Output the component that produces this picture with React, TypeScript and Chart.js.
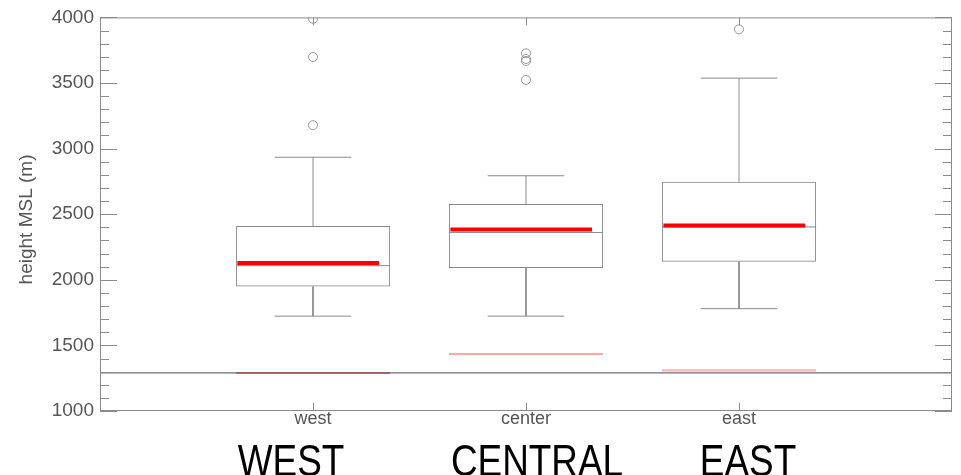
import { useEffect, useRef } from 'react';
import { Chart, registerables } from 'chart.js';

Chart.register(...registerables);

// ---- data ----
const CATEGORIES = ['west', 'center', 'east'];
const BIG_LABELS = ['WEST', 'CENTRAL', 'EAST'];
const WHISKER_LOW = [1723, 1723, 1780];
const Q1 = [1949, 2090, 2138];
const MEDIAN = [2108, 2360, 2403];
const Q3 = [2410, 2577, 2748];
const WHISKER_HIGH = [2934, 2793, 3537];
const MEAN = [2128, 2383, 2413];
const OUTLIERS = [
  [3178, 3698, 3990],
  [3524, 3668, 3683, 3726],
  [3909],
];
const BASE_LEVEL = [1290, 1435, 1309];
const REFERENCE_LEVEL = 1290;
const Y_MIN = 1000;
const Y_MAX = 4000;
const MAJOR_STEP = 500;
const MINOR_STEP = 100;

// ---- geometry / style constants (not data) ----
const X_POS = CATEGORIES.map((_, i) => i + 1);
const BOX_HALF = 0.362;
const CAP_HALF = 0.18;
const MEAN_LEFT = 0.355;
const MEAN_RIGHT = 0.31;
const BIG_LABEL_SHIFT = [-22, 11, 9];
const TITLE_CENTER_VALUE = 2460;
const BASE_COLORS = ['#a05454', '#ff8a8a', '#ffb6b6'];
const GRAY = '#8a8a8a';
const TEXT = '#555555';
const FONT = '"Liberation Sans", Arial, sans-serif';

type Pt = { x: number; y: number | null };
const brk = (x: number): Pt => ({ x, y: null });

function whiskerPoints(): Pt[] {
  const pts: Pt[] = [];
  X_POS.forEach((x, i) => {
    pts.push({ x, y: Q3[i] }, { x, y: WHISKER_HIGH[i] }, brk(x));
    pts.push({ x: x - CAP_HALF, y: WHISKER_HIGH[i] }, { x: x + CAP_HALF, y: WHISKER_HIGH[i] }, brk(x));
    pts.push({ x, y: Q1[i] }, { x, y: WHISKER_LOW[i] }, brk(x));
    pts.push({ x: x - CAP_HALF, y: WHISKER_LOW[i] }, { x: x + CAP_HALF, y: WHISKER_LOW[i] }, brk(x));
  });
  return pts;
}

function segPoints(values: number[], left: number, right: number): Pt[] {
  const pts: Pt[] = [];
  X_POS.forEach((x, i) => {
    pts.push({ x: x - left, y: values[i] }, { x: x + right, y: values[i] }, brk(x));
  });
  return pts;
}

const framePlugin = {
  id: 'frameAndText',
  afterDatasetsDraw(chart: any) {
    const { ctx, chartArea: a, scales } = chart;
    const x = scales.x;
    const y = scales.y;
    ctx.save();
    ctx.strokeStyle = GRAY;
    ctx.lineWidth = 1;
    ctx.strokeRect(a.left + 0.5, a.top + 0.5, a.right - a.left - 1, a.bottom - a.top - 1);
    const seg = (x1: number, y1: number, x2: number, y2: number) => {
      ctx.beginPath();
      ctx.moveTo(x1, y1);
      ctx.lineTo(x2, y2);
      ctx.stroke();
    };
    for (let v = Y_MIN; v <= Y_MAX; v += MINOR_STEP) {
      const py = Math.round(y.getPixelForValue(v)) + 0.5;
      const len = v % MAJOR_STEP === 0 ? 17 : 9;
      seg(a.left, py, a.left + len, py);
      seg(a.right - len, py, a.right, py);
    }
    X_POS.forEach((v) => {
      const px = Math.round(x.getPixelForValue(v)) + 0.5;
      seg(px, a.bottom, px, a.bottom - 8);
      seg(px, a.top, px, a.top + 8);
    });
    ctx.restore();
  },
  afterDraw(chart: any) {
    const { ctx, scales } = chart;
    const x = scales.x;
    const y = scales.y;
    ctx.save();
    // y axis title
    ctx.fillStyle = TEXT;
    ctx.font = `19px ${FONT}`;
    ctx.textAlign = 'center';
    ctx.textBaseline = 'middle';
    ctx.translate(27, y.getPixelForValue(TITLE_CENTER_VALUE));
    ctx.rotate(-Math.PI / 2);
    ctx.fillText('height MSL (m)', 0, 0);
    ctx.restore();

    // big region labels
    ctx.save();
    ctx.fillStyle = '#000';
    ctx.font = `45px ${FONT}`;
    ctx.textAlign = 'center';
    ctx.textBaseline = 'alphabetic';
    BIG_LABELS.forEach((t, i) => {
      const cx = x.getPixelForValue(X_POS[i]) + BIG_LABEL_SHIFT[i];
      ctx.save();
      ctx.translate(cx, 476);
      ctx.scale(0.82, 1);
      ctx.fillText(t, 0, 0);
      ctx.restore();
    });
    ctx.restore();
  },
};

export default function App() {
  const ref = useRef<HTMLCanvasElement | null>(null);

  useEffect(() => {
    document.body.style.margin = '0';
    const canvas = ref.current;
    if (!canvas) return;

    const outlierPts: Pt[] = [];
    OUTLIERS.forEach((arr, i) => arr.forEach((v) => outlierPts.push({ x: X_POS[i], y: v })));

    const datasets: any[] = [
      {
        type: 'line',
        label: 'reference',
        data: [{ x: 0, y: REFERENCE_LEVEL }, { x: 4, y: REFERENCE_LEVEL }],
        borderColor: '#6e6e6e',
        borderWidth: 1.2,
        pointRadius: 0,
        order: 10,
      },
      ...BASE_LEVEL.map((v, i) => ({
        type: 'line',
        label: 'base ' + CATEGORIES[i],
        data: [{ x: X_POS[i] - BOX_HALF, y: v }, { x: X_POS[i] + BOX_HALF, y: v }],
        borderColor: BASE_COLORS[i],
        borderWidth: i === 2 ? 2.2 : 1.6,
        pointRadius: 0,
        order: 9,
      })),
      {
        type: 'bar',
        label: 'box',
        data: X_POS.map((x, i) => ({ x, y: [Q1[i], Q3[i]] })),
        backgroundColor: 'rgba(255,255,255,0)',
        borderColor: GRAY,
        borderWidth: 1,
        borderSkipped: false,
        categoryPercentage: 1,
        barPercentage: BOX_HALF * 2,
        order: 8,
      },
      {
        type: 'line',
        label: 'whiskers',
        data: whiskerPoints(),
        borderColor: GRAY,
        borderWidth: 1,
        pointRadius: 0,
        spanGaps: false,
        order: 7,
      },
      {
        type: 'line',
        label: 'median',
        data: segPoints(MEDIAN, BOX_HALF, BOX_HALF),
        borderColor: GRAY,
        borderWidth: 1,
        pointRadius: 0,
        spanGaps: false,
        order: 6,
      },
      {
        type: 'line',
        label: 'mean',
        data: segPoints(MEAN, MEAN_LEFT, MEAN_RIGHT),
        borderColor: '#ff0000',
        borderWidth: 4,
        borderCapStyle: 'butt',
        pointRadius: 0,
        spanGaps: false,
        order: 5,
      },
      {
        type: 'scatter',
        label: 'outliers',
        data: outlierPts,
        pointStyle: 'circle',
        pointRadius: 4.5,
        pointBorderColor: '#999999',
        pointBackgroundColor: 'rgba(255,255,255,0)',
        pointBorderWidth: 1,
        showLine: false,
        order: 4,
      },
    ];

    const chart = new Chart(canvas, {
      type: 'bar',
      data: { datasets },
      options: {
        animation: false,
        responsive: false,
        maintainAspectRatio: false,
        layout: { padding: { top: 12, right: 9, left: 0, bottom: 0 } },
        plugins: { legend: { display: false }, tooltip: { enabled: false } },
        events: [],
        scales: {
          x: {
            type: 'linear',
            min: 0,
            max: 4,
            offset: false,
            grid: { display: false, drawTicks: false, offset: false },
            border: { display: false },
            ticks: {
              stepSize: 1,
              autoSkip: false,
              maxRotation: 0,
              padding: -3,
              color: TEXT,
              font: { family: FONT, size: 18 },
              callback: (v: any) => CATEGORIES[Number(v) - 1] ?? '',
            },
            afterFit: (s: any) => {
              s.height = 64;
            },
          },
          y: {
            type: 'linear',
            min: Y_MIN,
            max: Y_MAX,
            grid: { display: false, drawTicks: false },
            border: { display: false },
            ticks: {
              stepSize: MAJOR_STEP,
              padding: 6,
              color: TEXT,
              font: { family: FONT, size: 19 },
              callback: (v: any) => String(v),
            },
            afterFit: (s: any) => {
              s.width = 100;
            },
          },
        },
      },
      plugins: [framePlugin],
    } as any);

    return () => chart.destroy();
  }, []);

  return <canvas ref={ref} width={961} height={475} style={{ display: 'block', width: 961, height: 475 }} />;
}
